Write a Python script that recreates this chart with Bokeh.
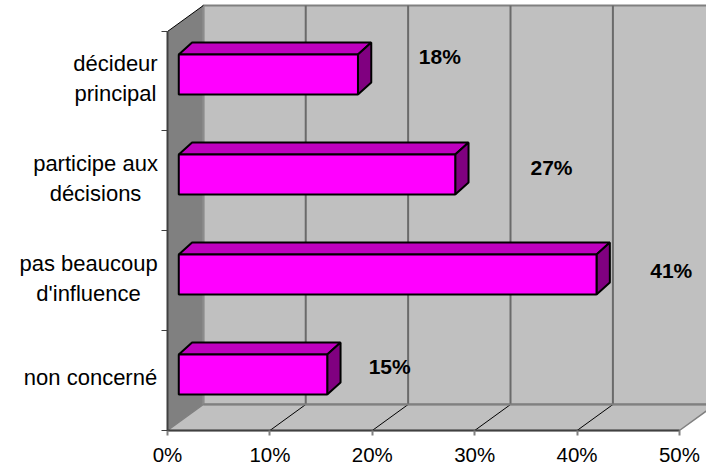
from bokeh.plotting import figure
from bokeh.models import Range1d, LinearAxis, FixedTicker, ColumnDataSource, LabelSet
from bokeh.core.properties import value
from bokeh.embed import file_html
from bokeh.resources import INLINE

categories = ["décideur\nprincipal", "participe aux\ndécisions", "pas beaucoup\nd'influence", "non concerné"]
values = [17.5, 27.0, 40.8, 14.5]
value_labels = ["18%", "27%", "41%", "15%"]
x_ticks = [0, 10, 20, 30, 40, 50]
y_bounds = [-0.56, 0.44, 1.44, 2.44, 3.43]

# label placement (style)
label_x = [26.6, 37.5, 49.2, 21.7]
label_y = [3.18, 2.07, 1.04, 0.08]
cat_x = [-5.08, -7.03, -7.71, -7.52]
cat_y = [2.96, 1.96, 0.96, -0.03]
FONT = "Liberation Sans"
WX, WY = 3.5, 0.26       # wall depth
BX, BY = 1.3, 0.12       # bar depth
B0 = 1.1                 # bar front offset
HH = 0.2                 # half bar height

p = figure(width=706, height=467, output_backend="svg", toolbar_location=None,
           x_range=Range1d(-16.31, 52.64), y_range=Range1d(-0.93, 3.74),
           x_axis_type=None, y_axis_type=None,
           min_border_left=0, min_border_right=0, min_border_top=0, min_border_bottom=0)
p.outline_line_color = None
p.grid.visible = False
p.background_fill_color = "white"

ymin, ytop, xmax = y_bounds[0], y_bounds[-1], x_ticks[-1]
# back wall
p.patch([WX, 60, 60, WX], [ymin + WY, ymin + WY, ytop + WY, ytop + WY],
        fill_color="#C0C0C0", line_color="#808080", line_width=2)
# floor
p.patch([0, xmax, xmax + WX, WX], [ymin, ymin, ymin + WY, ymin + WY],
        fill_color="#C0C0C0", line_color="#808080", line_width=1.5)
# left wall
p.patch([0, WX, WX, 0], [ymin, ymin + WY, ytop + WY, ytop],
        fill_color="#808080", line_color=None)
p.line([WX, WX], [ymin + WY, ytop + WY], line_color="#8c8c8c", line_width=2)
p.line([0, WX], [ytop, ytop + WY], line_color="black", line_width=1)
# grid on the back wall and floor
for t in x_ticks[1:]:
    p.line([t + WX, t + WX], [ymin + WY, ytop + WY], line_color="#6a6a6a", line_width=2)
for t in x_ticks[1:-1]:
    p.line([t, t + WX], [ymin, ymin + WY], line_color="black", line_width=1)
p.line([WX, 60], [ymin + WY, ymin + WY], line_color="#808080", line_width=2)

# bars
n = len(values)
for i, v in enumerate(values):
    y = n - 1 - i
    x0, x1 = B0, B0 + v
    p.patch([x0, x0 + BX, x1 + BX, x1], [y + HH, y + HH + BY, y + HH + BY, y + HH],
            fill_color="#BF00BF", line_color="black", line_width=2)
    p.patch([x1, x1 + BX, x1 + BX, x1], [y - HH, y - HH + BY, y + HH + BY, y + HH],
            fill_color="#800080", line_color="black", line_width=2)
    p.patch([x0, x1, x1, x0], [y - HH, y - HH, y + HH, y + HH],
            fill_color="#FF00FF", line_color="black", line_width=2)

# axes
xa = LinearAxis(ticker=FixedTicker(ticks=x_ticks), bounds=(0, 50), fixed_location=ymin,
                major_label_overrides={t: f"{t}%" for t in x_ticks})
xa.major_label_text_font = FONT
xa.major_label_text_font_size = "20.5px"
xa.major_label_text_color = "black"
xa.major_label_standoff = 7
xa.axis_line_color = "#404040"
xa.axis_line_width = 2
xa.major_tick_line_color = "#808080"
xa.major_tick_line_width = 2
xa.major_tick_out = 5
xa.major_tick_in = 0
xa.minor_tick_line_color = None
p.add_layout(xa, "below")

ya = LinearAxis(ticker=FixedTicker(ticks=y_bounds), bounds=(y_bounds[0], y_bounds[-1]),
                fixed_location=0,
                major_label_text_font_size="0px", major_label_text_color=None)
ya.axis_line_color = "#404040"
ya.axis_line_width = 2
ya.major_tick_line_color = "#404040"
ya.major_tick_line_width = 1
ya.major_tick_out = 6
ya.major_tick_in = 0
ya.minor_tick_line_color = None
p.add_layout(ya, "left")

# data labels
src = ColumnDataSource(dict(x=label_x, y=label_y, t=value_labels))
p.add_layout(LabelSet(x="x", y="y", text="t", source=src, text_align="center", text_baseline="middle",
                      text_font=value(FONT), text_font_style="bold", text_font_size="21px", text_color="black"))

# category labels
src2 = ColumnDataSource(dict(x=cat_x, y=cat_y, t=categories))
p.text(x="x", y="y", text="t", source=src2, text_align="center", text_baseline="middle",
       text_font=value(FONT), text_font_size="22px", text_color="black", text_line_height=1.2)

open("out.html", "w").write(file_html(p, INLINE))
